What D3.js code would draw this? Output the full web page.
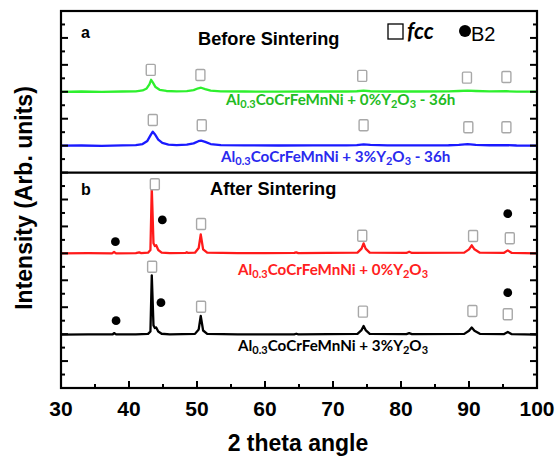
<!DOCTYPE html>
<html><head><meta charset="utf-8">
<script src="https://cdn.jsdelivr.net/npm/d3@7"></script>
<style>
html,body{margin:0;padding:0;background:#fff;}
svg{display:block;}
.ax{font-family:"Liberation Sans",Arial,sans-serif;font-weight:bold;}
.lab{font-family:Lato,"Open Sans",sans-serif;font-weight:bold;}
</style></head>
<body>
<script>
// ---------- data ----------
const xTickValues = [30, 40, 50, 60, 70, 80, 90, 100];
const angleDomain = [30, 100];
const intensityDomain = [0, 28];
const panelDividerIntensity = 16;

// XRD patterns [2theta, intensity (arb.)]
const green36h = [[30,22.0],[33,22.02],[36,21.99],[39,22.02],[41,22.03],[42,22.1],[42.6,22.25],[43.0,22.55],[43.25,22.89],[43.5,22.7],[43.9,22.35],[44.5,22.15],[45.5,22.06],[47,22.03],[48.5,22.05],[49.5,22.12],[50.2,22.26],[50.6,22.3],[51.2,22.2],[52,22.08],[53.5,22.03],[57,22.02],[62,22.01],[67,22.02],[72,22.02],[73.5,22.04],[74.5,22.08],[75.5,22.04],[78,22.02],[83,22.02],[87,22.03],[88.5,22.06],[89.8,22.09],[91,22.06],[93,22.03],[95.5,22.04],[97,22.01],[100,22.01]];
const blue36h = [[30,18.0],[33,18.01],[36,17.99],[39,18.02],[41,18.04],[42,18.12],[42.7,18.35],[43.2,18.8],[43.5,19.04],[43.8,18.85],[44.3,18.45],[44.9,18.2],[45.8,18.08],[47,18.04],[48.5,18.07],[49.5,18.17],[50.2,18.33],[50.6,18.37],[51.2,18.28],[52,18.12],[53.5,18.04],[57,18.02],[62,18.01],[67,18.02],[72,18.02],[73.5,18.04],[74.5,18.1],[75.5,18.05],[78,18.02],[83,18.02],[87,18.03],[88.5,18.06],[89.8,18.11],[91,18.06],[93,18.03],[95.5,18.04],[97,18.01],[100,18.0]];
const redSintered = [[30,10.0],[34,10.02],[37.5,10.0],[37.8,10.1],[38.1,10.0],[41,10.02],[41.5,10.07],[41.8,10.02],[42.8,10.05],[43.15,10.25],[43.35,14.83],[43.6,10.75],[43.8,10.55],[44.0,10.6],[44.3,10.25],[44.8,10.06],[46,10.02],[48.3,10.03],[48.5,10.08],[48.7,10.03],[49.7,10.05],[50.25,10.4],[50.55,11.41],[50.9,10.3],[51.5,10.05],[56,10.02],[60,10.01],[64.3,10.03],[64.6,10.07],[64.9,10.02],[73.6,10.05],[74.2,10.35],[74.5,10.74],[74.8,10.35],[75.4,10.05],[80.8,10.03],[81.2,10.12],[81.6,10.03],[89.3,10.05],[90.0,10.3],[90.4,10.6],[90.8,10.3],[91.6,10.05],[95.1,10.03],[95.7,10.22],[96.3,10.03],[100,10.0]];
const blackSintered = [[30,3.97],[34,3.99],[37.6,3.98],[37.8,4.08],[38.1,3.98],[41,3.99],[42.8,4.02],[43.15,4.2],[43.35,8.37],[43.6,4.65],[43.8,4.45],[44.0,4.5],[44.3,4.2],[44.8,4.03],[46,3.99],[49.7,4.02],[50.25,4.35],[50.55,5.35],[50.9,4.27],[51.5,4.02],[56,3.99],[60,3.98],[64.3,3.99],[64.6,4.03],[64.9,3.99],[73.6,4.02],[74.2,4.3],[74.5,4.6],[74.8,4.3],[75.4,4.02],[80.8,4.0],[81.2,4.07],[81.6,4.0],[89.3,4.02],[90.0,4.25],[90.4,4.49],[90.8,4.25],[91.6,4.02],[95.1,4.0],[95.7,4.16],[96.3,4.0],[100,3.97]];

// phase markers [2theta, intensity position]
const fccGreen = [[43.2,23.63],[50.5,23.25],[74.3,23.18],[89.7,23.05],[95.5,23.1]];
const fccBlue = [[43.5,19.91],[50.7,19.52],[74.5,19.52],[89.9,19.37],[95.5,19.37]];
const fccRed = [[43.8,15.13],[50.6,12.18],[74.3,11.31],[90.6,11.29],[96.0,11.12]];
const b2Red = [[38.0,10.87],[44.9,12.48],[95.7,12.95]];
const fccBlack = [[43.4,9.01],[50.6,6.04],[74.4,5.67],[90.5,5.72],[95.7,5.48]];
const b2Black = [[38.1,5.0],[44.7,6.34],[95.7,7.08]];

const seriesNames = ["0%Y2O3 - 36h", "3%Y2O3 - 36h", "0%Y2O3", "3%Y2O3"];

// ---------- drawing ----------
const W = 556, H = 456;
const m = {left: 61, right: 19, top: 11, bottom: 68};
const svg = d3.select("body").append("svg").attr("width", W).attr("height", H);

const x = d3.scaleLinear().domain(angleDomain).range([m.left, W - m.right]);
const y = d3.scaleLinear().domain(intensityDomain).range([H - m.bottom, m.top]);

const line = d3.line().x(d => x(d[0])).y(d => y(d[1]));

const patterns = [
  {data: green36h, color: "#2ef02e"},
  {data: blue36h, color: "#1a1aff"},
  {data: redSintered, color: "#ff1a1a"},
  {data: blackSintered, color: "#000000"}
];
svg.append("g").selectAll("path").data(patterns).join("path")
  .attr("d", d => line(d.data)).attr("fill", "none")
  .attr("stroke", d => d.color).attr("stroke-width", 2.3)
  .attr("stroke-linejoin", "round");

// fcc squares
const allFcc = [].concat(fccGreen, fccBlue, fccRed, fccBlack);
svg.append("g").selectAll("rect").data(allFcc).join("rect")
  .attr("x", d => x(d[0]) - 4.5).attr("y", d => y(d[1]) - 5.5)
  .attr("width", 9).attr("height", 11).attr("rx", 1.2)
  .attr("fill", "#fff").attr("stroke", "#a8a8a8").attr("stroke-width", 1.4);
// B2 circles
const allB2 = [].concat(b2Red, b2Black);
svg.append("g").selectAll("circle").data(allB2).join("circle")
  .attr("cx", d => x(d[0])).attr("cy", d => y(d[1])).attr("r", 4.4).attr("fill", "#000");

// axes
const ax = svg.append("g");
const x0 = x.range()[0], x1 = x.range()[1], y0 = y.range()[0], y1 = y.range()[1];
const xMinor = d3.range(35, 100, 10);
ax.selectAll(".xt").data(xTickValues).join("line")
  .attr("x1", d => x(d)).attr("x2", d => x(d)).attr("y1", y0).attr("y2", y0 - 7)
  .attr("stroke", "#000").attr("stroke-width", 2);
ax.selectAll(".xm").data(xMinor).join("line")
  .attr("x1", d => x(d)).attr("x2", d => x(d)).attr("y1", y0).attr("y2", y0 - 4)
  .attr("stroke", "#000").attr("stroke-width", 2);
const yTicks = d3.range(1, 28);
[x0, x1].forEach((xx, i) => {
  const dir = i === 0 ? 1 : -1;
  ax.append("g").selectAll("line").data(yTicks).join("line")
    .attr("x1", xx).attr("x2", d => xx + dir * (d % 2 === 0 ? 7 : 4))
    .attr("y1", d => y(d)).attr("y2", d => y(d))
    .attr("stroke", "#000").attr("stroke-width", 2);
});
ax.append("rect").attr("x", x0).attr("y", y1).attr("width", x1 - x0).attr("height", y0 - y1)
  .attr("fill", "none").attr("stroke", "#000").attr("stroke-width", 2.2);
ax.append("line").attr("x1", x0).attr("x2", x1)
  .attr("y1", y(panelDividerIntensity)).attr("y2", y(panelDividerIntensity))
  .attr("stroke", "#000").attr("stroke-width", 2.2);

// tick labels
svg.append("g").selectAll("text").data(xTickValues).join("text")
  .attr("class", "ax").attr("x", d => x(d)).attr("y", 416)
  .attr("text-anchor", "middle").attr("font-size", 21).text(d => d);
svg.append("text").attr("class", "ax").attr("x", 298).attr("y", 451)
  .attr("text-anchor", "middle").attr("font-size", 23).text("2 theta angle");
svg.append("text").attr("class", "ax")
  .attr("transform", "translate(32,198) rotate(-90)")
  .attr("text-anchor", "middle").attr("font-size", 23).text("Intensity (Arb. units)");

// panel titles
svg.append("text").attr("class", "ax").attr("x", 81).attr("y", 38).attr("font-size", 16).text("a");
svg.append("text").attr("class", "ax").attr("x", 81).attr("y", 195).attr("font-size", 16).text("b");
svg.append("text").attr("class", "ax").attr("x", 198).attr("y", 45).attr("font-size", 18.2).text("Before Sintering");
svg.append("text").attr("class", "ax").attr("x", 210).attr("y", 195).attr("font-size", 18.2).text("After Sintering");

// legend
svg.append("rect").attr("x", 388).attr("y", 24).attr("width", 15).attr("height", 15)
  .attr("fill", "#fff").attr("stroke", "#000").attr("stroke-width", 1.3);
svg.append("text").attr("class", "lab").attr("x", 407).attr("y", 38.5)
  .attr("font-size", 22).attr("font-style", "italic").text("fcc");
svg.append("circle").attr("cx", 465).attr("cy", 31).attr("r", 6).attr("fill", "#000");
svg.append("text").attr("x", 471).attr("y", 40.5).attr("font-family", "'Liberation Sans',Arial,sans-serif")
  .attr("font-size", 20).text("B2");

// sample labels
function sampleLabel(xp, yp, color, pct, suffix) {
  const t = svg.append("text").attr("class", "lab").attr("x", xp).attr("y", yp)
    .attr("font-size", 15.2).attr("fill", color);
  t.append("tspan").text("Al");
  t.append("tspan").attr("dy", 3).attr("font-size", 11).text("0.3");
  t.append("tspan").attr("dy", -3).text("CoCrFeMnNi + " + pct + "%Y");
  t.append("tspan").attr("dy", 3).attr("font-size", 11).text("2");
  t.append("tspan").attr("dy", -3).text("O");
  t.append("tspan").attr("dy", 3).attr("font-size", 11).text("3");
  if (suffix) t.append("tspan").attr("dy", -3).text(" " + suffix);
}
sampleLabel(226, 105, "#22bb22", "0", "- 36h");
sampleLabel(221, 162, "#2a2aee", "3", "- 36h");
sampleLabel(238, 275, "#ff2020", "0", "");
sampleLabel(238, 351, "#000000", "3", "");
</script>
</body></html>
